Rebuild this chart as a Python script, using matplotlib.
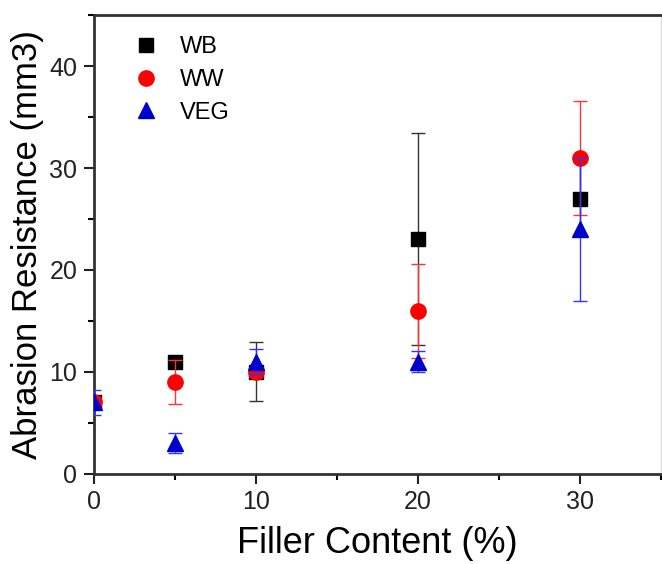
import matplotlib
matplotlib.use('Agg')
import matplotlib.pyplot as plt
from matplotlib.ticker import MultipleLocator

plt.rcParams['font.family'] = ['Liberation Sans', 'DejaVu Sans']

filler = [0, 5, 10, 20, 30]

wb = [7, 11, 10, 23, 27]
wb_err = [0.5, 0.4, 2.9, 10.4, 3.7]

ww = [7, 9, 10, 16, 31]
ww_err = [0.5, 2.2, 0.5, 4.6, 5.6]

veg = [7, 3, 11, 11, 24]
veg_err = [1.2, 1.0, 1.2, 1.0, 7.0]

fig = plt.figure(figsize=(6.62, 5.64), dpi=100)
ax = fig.add_axes([0.142, 0.16, 0.8565, 0.813])

series = [
    (wb, wb_err, 's', 'black', '#333333', 10, 'WB'),
    (ww, ww_err, 'o', '#ff0000', '#ff3333', 11, 'WW'),
    (veg, veg_err, '^', '#0000cc', '#3333ff', 11, 'VEG'),
]
for i, (vals, err, mk, col, ecol, ms, name) in enumerate(series):
    ax.errorbar(filler, vals, yerr=err, fmt='none', ecolor=ecol,
                elinewidth=1, capsize=5, capthick=1, zorder=3 + i)
    ax.plot(filler, vals, mk, color=col, markersize=ms, label=name, zorder=3 + i)

ax.set_xlim(0, 35)
ax.set_ylim(0, 45)
ax.xaxis.set_major_locator(MultipleLocator(10))
ax.xaxis.set_minor_locator(MultipleLocator(5))
ax.yaxis.set_major_locator(MultipleLocator(10))
ax.yaxis.set_minor_locator(MultipleLocator(5))
ax.tick_params(which='both', top=False, right=False)
ax.tick_params(which='major', direction='out', length=7, width=1.5, labelsize=18,
               colors='#222222', pad=5)
ax.tick_params(which='minor', direction='out', length=4, width=1.5)

for side in ['left', 'bottom', 'top']:
    ax.spines[side].set_linewidth(2)
    ax.spines[side].set_color('#333333')
ax.spines['right'].set_color('#dddddd')
ax.spines['right'].set_linewidth(1)

ax.set_xlabel('Filler Content (%)', fontsize=26, labelpad=8)
ax.set_ylabel('Abrasion Resistance (mm3)', fontsize=25, labelpad=4)

ax.legend(loc='upper left', frameon=False, fontsize=17, handletextpad=0.8,
          borderaxespad=0.5, labelspacing=0.45, handlelength=1.2,
          bbox_to_anchor=(0.03, 1.0))

fig.savefig('out.png', dpi=100)
